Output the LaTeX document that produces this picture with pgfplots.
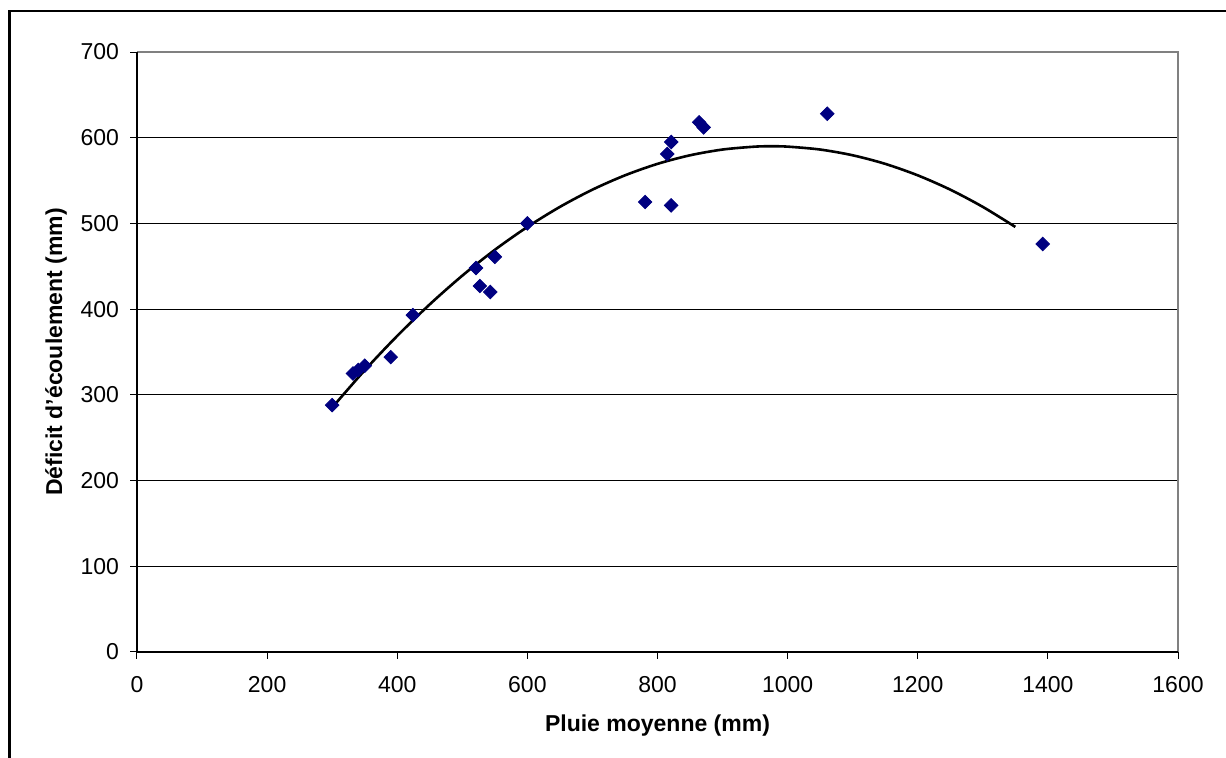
\documentclass[border=0pt]{standalone}
\usepackage{fontspec}
\setmainfont{Liberation Sans}
\usepackage{pgfplots}
\pgfplotsset{compat=1.18}
\definecolor{navyblue}{HTML}{000080}
\begin{document}
\begin{tikzpicture}
\useasboundingbox (0,0) rectangle (613pt,379pt);
\draw[line width=1.2pt] (4.75pt,-20pt) -- (4.75pt,373.5pt) -- (640pt,373.5pt);
\begin{axis}[
  at={(68.5pt,53pt)}, anchor=south west,
  scale only axis, width=520.5pt, height=300pt,
  xmin=0, xmax=1600, ymin=0, ymax=700,
  xtick={0,200,...,1600}, ytick={0,100,...,700},
  ymajorgrids, grid style={black, line width=0.5pt},
  axis line style={draw=none},
  tick align=outside, major tick length=3.5pt,
  tick style={black, line width=0.5pt},
  xtick pos=bottom, ytick pos=left,
  /pgf/number format/assume math mode=true,
  /pgf/number format/1000 sep={},
  tick label style={font=\fontsize{11.5}{14}\selectfont},
  xticklabel style={yshift=-5pt},
  yticklabel style={xshift=-2pt},
  label style={font=\fontsize{11.5}{14}\selectfont\bfseries},
  xlabel={Pluie moyenne (mm)},
  ylabel={Déficit d'écoulement (mm)},
  x label style={at={(axis description cs:0.5,-0.1317)}, anchor=base},
  y label style={at={(axis description cs:-0.0778,0.5)}, anchor=center},
  clip=false,
]
\addplot[black, line width=1.3pt, smooth, no marks] coordinates {
  (300,285.2) (350,328.7) (400,368.8) (450,405.6) (500,439.1) (550,469.2)
  (600,495.9) (650,519.3) (700,539.4) (750,556.1) (800,569.5) (850,579.5)
  (900,586.2) (950,589.6) (975,590) (1000,589.6) (1050,586.2) (1100,579.5)
  (1150,569.5) (1200,556.1) (1250,539.4) (1300,519.3) (1350,495.9)
};
\addplot[only marks, mark=square*, mark size=2.4pt,
  mark options={rotate=45, fill=navyblue, draw=navyblue}] coordinates {
  (300,288) (332,325) (340,329) (350,334) (390,344) (424,393)
  (521,448) (527,427) (543,420) (550,461) (600,500)
  (781,525) (821,521) (815,581) (821,595) (864,618) (871,612)
  (1061,628) (1392,476)
};
\draw[gray, line width=0.8pt] (rel axis cs:0,1) -- (rel axis cs:1,1) -- (rel axis cs:1,0);
\draw[black, line width=0.6pt] (rel axis cs:0,1) -- (rel axis cs:0,0) -- (rel axis cs:1,0);
\end{axis}
\end{tikzpicture}
\end{document}
